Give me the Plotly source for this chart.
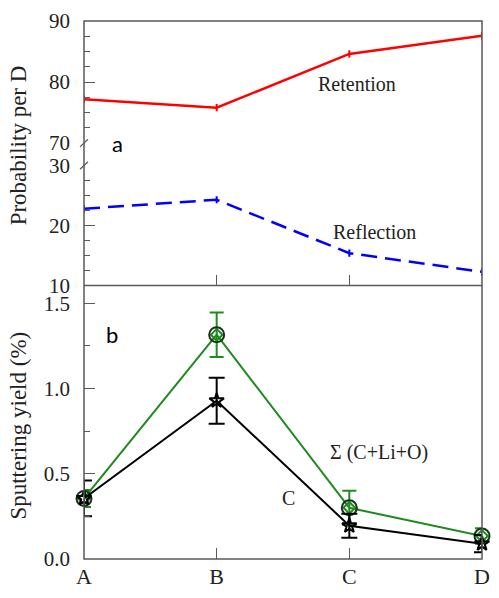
import plotly.graph_objects as go

# ---- data ----
categories = ["A", "B", "C", "D"]

retention = [77.2, 75.8, 84.6, 87.6]
retention_err = [0.6, 0.6, 0.6, 0.6]
reflection = [22.8, 24.3, 15.4, 12.3]
reflection_err = [0.6, 0.6, 0.6, 0.6]

sum_yield = [0.355, 1.315, 0.30, 0.135]
sum_err = [0.05, 0.13, 0.10, 0.045]
carbon_yield = [0.355, 0.928, 0.195, 0.09]
carbon_err = [0.105, 0.135, 0.07, 0.05]

SERIF = "Liberation Serif"
AXIS_GRAY = "#5a5a5a"
GREEN = "#1f8a1f"

# panel layout (paper fractions)
BOT = [0.0, 0.5082]      # sputtering yield panel
LOW = [0.5082, 0.7314]   # 10-30 segment of probability axis
UPP = [0.7731, 1.0]      # 70-90 segment of probability axis

fig = go.Figure()

# ---- panel a ----
fig.add_trace(go.Scatter(
    x=categories, y=retention, xaxis="x2", yaxis="y",
    mode="lines", line=dict(color="#ff0000", width=2.5),
    error_y=dict(type="data", array=retention_err, color="#ff0000",
                 thickness=2, width=0),
    cliponaxis=False, showlegend=False))

fig.add_trace(go.Scatter(
    x=categories, y=reflection, xaxis="x2", yaxis="y2",
    mode="lines", line=dict(color="#0000ff", width=2.5, dash="16px,8px"),
    error_y=dict(type="data", array=reflection_err, color="#0000ff",
                 thickness=2, width=0),
    cliponaxis=False, showlegend=False))

# ---- panel b ----
fig.add_trace(go.Scatter(
    x=categories, y=sum_yield, xaxis="x", yaxis="y3",
    mode="lines+markers", line=dict(color=GREEN, width=2),
    marker=dict(symbol="diamond-open", size=9, color=GREEN,
                line=dict(width=2, color=GREEN)),
    error_y=dict(type="data", array=sum_err, color=GREEN,
                 thickness=2, width=7),
    cliponaxis=False, showlegend=False))
fig.add_trace(go.Scatter(
    x=categories, y=sum_yield, xaxis="x", yaxis="y3",
    mode="markers",
    marker=dict(symbol="circle-open", size=15, color="#1a331a",
                line=dict(width=2, color="#1a331a")),
    cliponaxis=False, showlegend=False, hoverinfo="skip"))

fig.add_trace(go.Scatter(
    x=categories, y=carbon_yield, xaxis="x", yaxis="y3",
    mode="lines+markers", line=dict(color="#000000", width=2),
    marker=dict(symbol="star-open", size=11, color="#000000",
                line=dict(width=2, color="#000000")),
    error_y=dict(type="data", array=carbon_err, color="#000000",
                 thickness=2, width=8),
    cliponaxis=False, showlegend=False))

tick_font = dict(family=SERIF, size=21, color="#222222")

common_y = dict(
    ticks="inside", ticklen=11, tickwidth=1, tickcolor=AXIS_GRAY,
    showline=False, showgrid=False, zeroline=False,
    tickfont=tick_font, ticklabelstandoff=13,
)

fig.update_layout(
    width=499, height=598, autosize=False,
    margin=dict(l=84, r=9, t=16, b=31),
    paper_bgcolor="white", plot_bgcolor="white",
    xaxis=dict(
        domain=[0, 1], anchor="y3", type="category", range=[0, 3],
        ticks="inside", ticklen=11, tickcolor=AXIS_GRAY,
        showline=False, showgrid=False, zeroline=False,
        tickfont=dict(family=SERIF, size=22, color="#222222"),
        ticklabelstandoff=2),
    xaxis2=dict(
        domain=[0, 1], anchor="y2", type="category", range=[0, 3],
        matches="x", ticks="inside", ticklen=11, tickcolor=AXIS_GRAY,
        showticklabels=False, showline=False, showgrid=False,
        zeroline=False),
    yaxis=dict(domain=UPP, anchor="x2", range=[70, 90], tick0=0, dtick=10,
               minor=dict(ticks="inside", ticklen=6, dtick=2.5,
                          tickcolor=AXIS_GRAY),
               **common_y),
    yaxis2=dict(domain=LOW, anchor="x2", range=[10, 30], tick0=0, dtick=10,
                minor=dict(ticks="inside", ticklen=6, dtick=2.5,
                           tickcolor=AXIS_GRAY),
                **common_y),
    yaxis3=dict(domain=BOT, anchor="x", range=[0, 1.603], tick0=0,
                dtick=0.5, tickformat=".1f",
                minor=dict(ticks="inside", ticklen=6, dtick=0.25,
                           tickcolor=AXIS_GRAY),
                **common_y),
)

# frames of both panels, left axis drawn continuous through the break
frame = dict(color=AXIS_GRAY, width=1.5)
fig.add_shape(type="rect", xref="paper", yref="paper",
              x0=0, x1=1, y0=0, y1=1, line=frame)
fig.add_shape(type="line", xref="paper", yref="paper",
              x0=0, x1=1, y0=BOT[1], y1=BOT[1], line=frame)

# axis-break slashes
for yb in (UPP[0], LOW[1]):
    fig.add_shape(type="line", xref="paper", yref="paper",
                  x0=-0.010, x1=0.010, y0=yb - 0.007, y1=yb + 0.007,
                  line=dict(color=AXIS_GRAY, width=1.2))

# axis titles
title_font = dict(family=SERIF, size=23, color="#222222")
fig.add_annotation(text="Probability per D", xref="paper", yref="paper",
                   x=-0.165, y=0.7695, xanchor="center", yanchor="middle",
                   textangle=-90, showarrow=False, font=title_font)
fig.add_annotation(text="Sputtering yield (%)", xref="paper", yref="paper",
                   x=-0.165, y=0.2486, xanchor="center", yanchor="middle",
                   textangle=-90, showarrow=False, font=title_font)

# panel letters
letter_font = dict(family="Lato", size=22, color="#000000")
fig.add_annotation(text="a", xref="x", yref="paper", x=0.25, y=0.773,
                   xanchor="center", yanchor="middle",
                   showarrow=False, font=letter_font)
fig.add_annotation(text="b", xref="x", yref="y3", x=0.21, y=1.317,
                   xanchor="center", yanchor="middle",
                   showarrow=False, font=letter_font)

# series labels
label_font = dict(family=SERIF, size=20, color="#222222")
labels = [
    ("Retention", "x2", "y", 2.055, 79.6),
    ("Reflection", "x2", "y2", 2.19, 18.9),
    ("Σ (C+Li+O)", "x", "y3", 2.22, 0.624),
    ("C", "x", "y3", 1.545, 0.355),
]
for text, xr, yr, xv, yv in labels:
    fig.add_annotation(text=text, xref=xr, yref=yr, x=xv, y=yv,
                       xanchor="center", yanchor="middle",
                       showarrow=False, font=label_font)

fig.write_html("out.html")
